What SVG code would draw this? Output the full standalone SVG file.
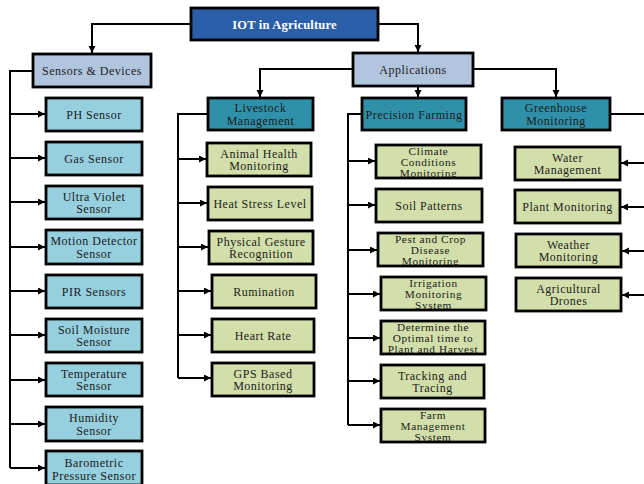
<svg xmlns="http://www.w3.org/2000/svg" width="644" height="484" viewBox="0 0 644 484">
<defs>
<marker id="ah" markerUnits="userSpaceOnUse" markerWidth="8" markerHeight="8" refX="7" refY="3.5" orient="auto"><path d="M0,0 L7,3.5 L0,7 z" fill="#000"/></marker>
<style>
rect{stroke:#000;stroke-width:2.8}
.root{fill:#2b5ea8}
.lvl1{fill:#b2c5de}
.sens{fill:#96cfde}
.lvl2{fill:#3190a9}
.leaf{fill:#d2dfaa}
text{font-family:"Liberation Serif","Times New Roman",serif;font-size:12px;letter-spacing:0.5px;fill:#1c1c1c;text-anchor:middle}
.t3{font-size:11.3px;letter-spacing:0.6px}
.wt{fill:#fff;font-weight:bold;font-size:12.5px;letter-spacing:0.2px}
.c{fill:none;stroke:#000;stroke-width:2}
.a{fill:none;stroke:#000;stroke-width:2;marker-end:url(#ah)}
</style>
</defs>
<rect x="0" y="0" width="644" height="484" fill="#fff" style="stroke:none"/>
<g id="connectors">
<path class="a" d="M191,24 H92 V53"/>
<path class="a" d="M378,24 H418 V52"/>
<path class="c" d="M33,71 H10 V468"/>
<path class="a" d="M10,114 H45"/>
<path class="a" d="M10,158 H45"/>
<path class="a" d="M10,202 H45"/>
<path class="a" d="M10,247 H45"/>
<path class="a" d="M10,291 H45"/>
<path class="a" d="M10,335 H45"/>
<path class="a" d="M10,380 H45"/>
<path class="a" d="M10,424 H45"/>
<path class="a" d="M10,468 H45"/>
<path class="a" d="M353,69 H260 V97"/>
<path class="a" d="M418,86 V97"/>
<path class="a" d="M473,69 H556 V97"/>
<path class="c" d="M208,114 H178 V378"/>
<path class="a" d="M178,159 H206"/>
<path class="a" d="M178,203 H207"/>
<path class="a" d="M178,247 H208"/>
<path class="a" d="M178,291 H211"/>
<path class="a" d="M178,335 H211"/>
<path class="a" d="M178,378 H211"/>
<path class="c" d="M362,114 H348 V425"/>
<path class="a" d="M348,161 H375"/>
<path class="a" d="M348,205 H375"/>
<path class="a" d="M348,250 H377"/>
<path class="a" d="M348,294 H380"/>
<path class="a" d="M348,338 H380"/>
<path class="a" d="M348,381 H380"/>
<path class="a" d="M348,425 H380"/>
<path class="c" d="M610,114 H644"/>
<path class="a" d="M644,163 H621"/>
<path class="a" d="M644,207 H621"/>
<path class="a" d="M644,251 H622"/>
<path class="a" d="M644,295 H622"/>
</g>
<g id="root"><rect class="root" x="191" y="8" width="187" height="32"/><text class="wt" x="284.5" y="28.5">IOT in Agriculture</text></g>
<g id="sensors"><rect class="lvl1" x="33" y="54" width="118" height="33"/><text x="92" y="75">Sensors &amp; Devices</text></g>
<g id="applications"><rect class="lvl1" x="353" y="53" width="120" height="33"/><text x="413" y="74">Applications</text></g>
<g id="ph"><rect class="sens" x="46" y="98" width="96" height="33"/><text x="94" y="119">PH Sensor</text></g>
<g id="gas"><rect class="sens" x="46" y="142" width="96" height="33"/><text x="94" y="163">Gas Sensor</text></g>
<g id="uv"><rect class="sens" x="46" y="186" width="96" height="33"/><text x="94" y="200.5">Ultra Violet</text><text x="94" y="213">Sensor</text></g>
<g id="motion"><rect class="sens" x="46" y="230" width="96" height="34"/><text x="94" y="245">Motion Detector</text><text x="94" y="257.5">Sensor</text></g>
<g id="pir"><rect class="sens" x="46" y="275" width="96" height="33"/><text x="94" y="296">PIR Sensors</text></g>
<g id="soilm"><rect class="sens" x="46" y="319" width="96" height="33"/><text x="94" y="333.5">Soil Moisture</text><text x="94" y="346">Sensor</text></g>
<g id="temp"><rect class="sens" x="46" y="363" width="96" height="33"/><text x="94" y="377.5">Temperature</text><text x="94" y="390">Sensor</text></g>
<g id="hum"><rect class="sens" x="46" y="407" width="96" height="34"/><text x="94" y="422">Humidity</text><text x="94" y="434.5">Sensor</text></g>
<g id="baro"><rect class="sens" x="46" y="451" width="96" height="34"/><text x="94" y="467">Barometric</text><text x="94" y="479.5">Pressure Sensor</text></g>
<g id="livestock"><rect class="lvl2" x="208" y="98" width="105" height="32"/><text x="260.5" y="112">Livestock</text><text x="260.5" y="124.5">Management</text></g>
<g id="precision"><rect class="lvl2" x="362" y="98" width="104" height="32"/><text x="414" y="118.5">Precision Farming</text></g>
<g id="greenhouse"><rect class="lvl2" x="502" y="98" width="108" height="32"/><text x="556" y="112">Greenhouse</text><text x="556" y="124.5">Monitoring</text></g>
<g id="animal"><rect class="leaf" x="207" y="143" width="104" height="33"/><text x="259" y="157.5">Animal Health</text><text x="259" y="170">Monitoring</text></g>
<g id="heat"><rect class="leaf" x="208" y="187" width="104" height="33"/><text x="260" y="208">Heat Stress Level</text></g>
<g id="gesture"><rect class="leaf" x="209" y="231" width="104" height="33"/><text x="261" y="245.5">Physical Gesture</text><text x="261" y="258">Recognition</text></g>
<g id="rumination"><rect class="leaf" x="212" y="275" width="104" height="33"/><text x="264" y="296">Rumination</text></g>
<g id="heart"><rect class="leaf" x="212" y="319" width="102" height="33"/><text x="263" y="340">Heart Rate</text></g>
<g id="gps"><rect class="leaf" x="212" y="363" width="102" height="33"/><text x="263" y="377.5">GPS Based</text><text x="263" y="390">Monitoring</text></g>
<g id="climate"><rect class="leaf" x="376" y="145" width="105" height="33"/><text class="t3" x="428.5" y="155">Climate</text><text class="t3" x="428.5" y="166">Conditions</text><text class="t3" x="428.5" y="177">Monitoring</text></g>
<g id="soilp"><rect class="leaf" x="376" y="189" width="106" height="33"/><text x="429" y="210">Soil Patterns</text></g>
<g id="pest"><rect class="leaf" x="378" y="233" width="105" height="33"/><text class="t3" x="430.5" y="243">Pest and Crop</text><text class="t3" x="430.5" y="254">Disease</text><text class="t3" x="430.5" y="265">Monitoring</text></g>
<g id="irrigation"><rect class="leaf" x="381" y="277" width="105" height="33"/><text class="t3" x="433.5" y="287">Irrigation</text><text class="t3" x="433.5" y="298">Monitoring</text><text class="t3" x="433.5" y="309">System</text></g>
<g id="optimal"><rect class="leaf" x="381" y="321" width="104" height="33"/><text class="t3" x="433" y="331">Determine the</text><text class="t3" x="433" y="342">Optimal time to</text><text class="t3" x="433" y="353">Plant and Harvest</text></g>
<g id="tracking"><rect class="leaf" x="381" y="365" width="103" height="33"/><text x="432.5" y="379.5">Tracking and</text><text x="432.5" y="392">Tracing</text></g>
<g id="farm"><rect class="leaf" x="381" y="409" width="104" height="33"/><text class="t3" x="433" y="419">Farm</text><text class="t3" x="433" y="430">Management</text><text class="t3" x="433" y="441">System</text></g>
<g id="water"><rect class="leaf" x="515" y="147" width="105" height="33"/><text x="567.5" y="161.5">Water</text><text x="567.5" y="174">Management</text></g>
<g id="plant"><rect class="leaf" x="515" y="190" width="105" height="33"/><text x="567.5" y="211">Plant Monitoring</text></g>
<g id="weather"><rect class="leaf" x="516" y="234" width="105" height="33"/><text x="568.5" y="248.5">Weather</text><text x="568.5" y="261">Monitoring</text></g>
<g id="drones"><rect class="leaf" x="516" y="278" width="105" height="33"/><text x="568.5" y="292.5">Agricultural</text><text x="568.5" y="305">Drones</text></g>
</svg>
